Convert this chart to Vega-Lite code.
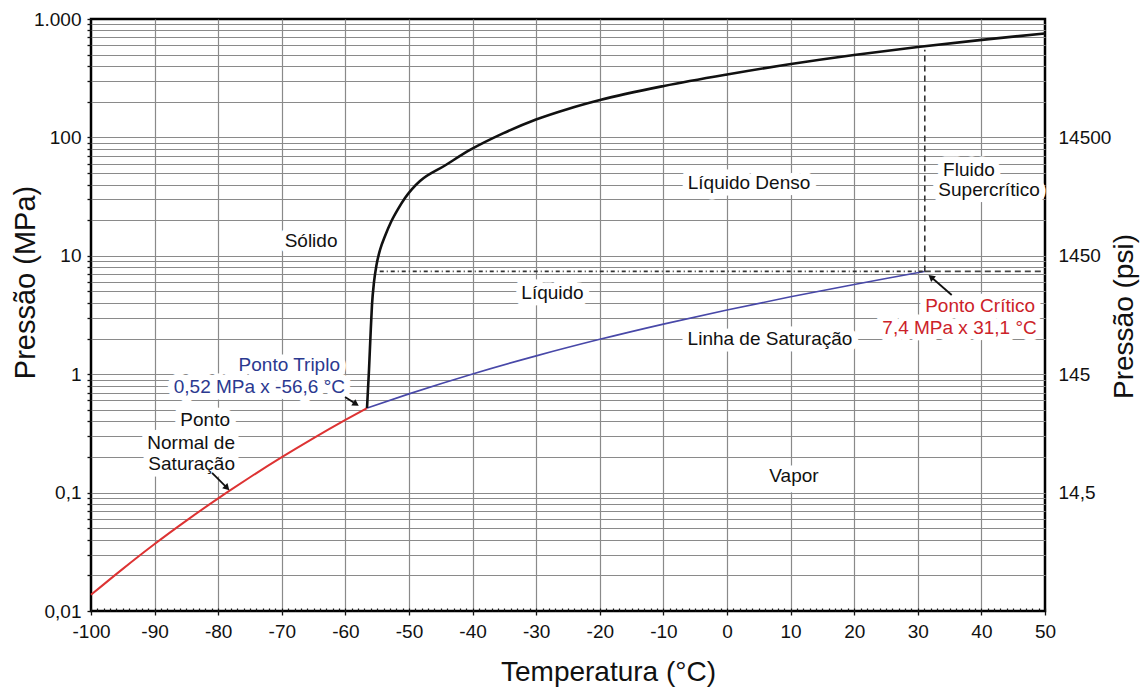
{
  "$schema": "https://vega.github.io/schema/vega-lite/v6.json",
  "width": 954,
  "height": 592,
  "autosize": {"type": "none"},
  "padding": {"left": 91, "top": 19, "right": 101, "bottom": 79},
  "background": "white",
  "config": {
    "view": {"stroke": "black", "strokeWidth": 2.5},
    "font": "Liberation Sans",
    "axis": {
      "labelFont": "Liberation Sans",
      "titleFont": "Liberation Sans",
      "labelFontSize": 19,
      "titleFontSize": 28,
      "titleFontWeight": "normal",
      "labelColor": "#111111",
      "titleColor": "#111111",
      "gridColor": "#8a8a8a",
      "gridWidth": 1.2,
      "domain": false,
      "tickColor": "#111111",
      "tickWidth": 1.3
    }
  },
  "resolve": {"axis": {"x": "independent", "y": "independent"}},
  "datasets": {
    "sub": [
      {"t": -100, "p": 0.0137},
      {"t": -95, "p": 0.0227},
      {"t": -90, "p": 0.0368},
      {"t": -85, "p": 0.058},
      {"t": -80, "p": 0.0894},
      {"t": -78.5, "p": 0.1013},
      {"t": -75, "p": 0.1347},
      {"t": -70, "p": 0.199},
      {"t": -65, "p": 0.2885},
      {"t": -60, "p": 0.411},
      {"t": -56.6, "p": 0.518}
    ],
    "sat": [
      {"t": -56.6, "p": 0.518},
      {"t": -50, "p": 0.682},
      {"t": -40, "p": 1.005},
      {"t": -30, "p": 1.428},
      {"t": -20, "p": 1.97},
      {"t": -10, "p": 2.649},
      {"t": 0, "p": 3.485},
      {"t": 10, "p": 4.502},
      {"t": 20, "p": 5.729},
      {"t": 25, "p": 6.434},
      {"t": 31.1, "p": 7.38}
    ],
    "melt": [
      {"t": -56.6, "p": 0.518},
      {"t": -56.29, "p": 1.085},
      {"t": -56.05, "p": 2.14},
      {"t": -55.82, "p": 3.84},
      {"t": -55.5, "p": 6.01},
      {"t": -55.11, "p": 8.36},
      {"t": -54.56, "p": 11.2},
      {"t": -53.77, "p": 14.7},
      {"t": -52.83, "p": 19.3},
      {"t": -51.73, "p": 24.8},
      {"t": -50.63, "p": 30.8},
      {"t": -49.53, "p": 36.6},
      {"t": -48.27, "p": 42.8},
      {"t": -44.34, "p": 57.9},
      {"t": -40.41, "p": 78.3},
      {"t": -35.22, "p": 108},
      {"t": -30.03, "p": 141.6},
      {"t": -25.0, "p": 174},
      {"t": -19.97, "p": 207},
      {"t": -9.91, "p": 272},
      {"t": 0, "p": 340},
      {"t": 10.06, "p": 417},
      {"t": 19.97, "p": 497},
      {"t": 30.0, "p": 580},
      {"t": 40.06, "p": 666},
      {"t": 50, "p": 756}
    ],
    "isoLeft": [{"t": -54.6, "t2": 31.1, "p": 7.38}],
    "isoRight": [{"t": 31.1, "t2": 50, "p": 7.38}],
    "isoT": [{"t": 31.1, "p": 7.38, "p2": 550}],
    "arrows": [
      {"name": "triple", "t": -60.06, "p": 0.642, "t2": -58.33, "p2": 0.56},
      {"name": "normal", "t": -80.97, "p": 0.1466, "t2": -78.6, "p2": 0.1094},
      {"name": "critical", "t": 35.33, "p": 4.67, "t2": 32.08, "p2": 6.62}
    ],
    "regions": [
      {"label": "Sólido", "t": -65.4, "p": 13.3},
      {"label": "Líquido Denso", "t": 3.46, "p": 41.2},
      {"label": "Fluido", "t": 38.05, "p": 53.1},
      {"label": "Supercrítico", "t": 41.2, "p": 36.0},
      {"label": "Líquido", "t": -27.44, "p": 4.82},
      {"label": "Linha de Saturação", "t": 6.76, "p": 1.98},
      {"label": "Vapor", "t": 10.53, "p": 0.138}
    ],
    "normalNote": [
      {"label": "Ponto", "t": -78.14, "p": 0.41},
      {"label": "Normal de", "t": -77.36, "p": 0.262},
      {"label": "Saturação", "t": -77.36, "p": 0.1746}
    ],
    "tripleNote": [
      {"label": "Ponto Triplo", "t": -60.85, "p": 1.196},
      {"label": "0,52 MPa x -56,6 °C", "t": -60.06, "p": 0.784}
    ],
    "criticalNote": [
      {"label": "Ponto Crítico", "t": 48.43, "p": 3.77},
      {"label": "7,4 MPa x 31,1 °C", "t": 48.7, "p": 2.45}
    ]
  },
  "layer": [
    {
      "data": {"name": "sub"},
      "mark": {"type": "line", "color": "#dd3333", "strokeWidth": 2, "interpolate": "monotone"},
      "encoding": {
        "x": {
          "field": "t", "type": "quantitative",
          "scale": {"domain": [-100, 50], "nice": false, "zero": false},
          "axis": {
            "orient": "bottom",
            "values": [-100, -90, -80, -70, -60, -50, -40, -30, -20, -10, 0, 10, 20, 30, 40, 50],
            "labelExpr": "'' + datum.value",
            "labelFlush": false,
            "labelOverlap": false,
            "labelPadding": 7,
            "tickSize": 4,
            "grid": true,
            "gridColor": {"condition": {"test": "datum.value == -100 || datum.value == 50", "value": "transparent"}, "value": "#8a8a8a"},
            "title": "Temperatura (°C)",
            "titleX": 517,
            "titleY": 69,
            "titleBaseline": "alphabetic",
            "titleAlign": "center"
          }
        },
        "y": {
          "field": "p", "type": "quantitative",
          "scale": {"type": "log", "domain": [0.01, 1000], "nice": false},
          "axis": {
            "orient": "left",
            "values": [0.01, 0.02, 0.03, 0.04, 0.05, 0.06, 0.07, 0.08, 0.09, 0.1, 0.2, 0.3, 0.4, 0.5, 0.6, 0.7, 0.8, 0.9, 1, 2, 3, 4, 5, 6, 7, 8, 9, 10, 20, 30, 40, 50, 60, 70, 80, 90, 100, 200, 300, 400, 500, 600, 700, 800, 900, 1000],
            "labelExpr": "datum.value == 1000 ? '1.000' : datum.value == 100 ? '100' : datum.value == 10 ? '10' : datum.value == 1 ? '1' : datum.value == 0.1 ? '0,1' : datum.value == 0.01 ? '0,01' : ''",
            "labelFlush": false,
            "labelOverlap": false,
            "labelPadding": 6,
            "tickSize": 4,
            "grid": true,
            "gridColor": {"condition": {"test": "datum.value == 1000 || datum.value == 0.01", "value": "transparent"}, "value": "#8a8a8a"},
            "title": "Pressão (MPa)",
            "titleFontSize": 29,
            "titleAngle": -90,
            "titleX": -57,
            "titleY": 263,
            "titleBaseline": "alphabetic",
            "titleAlign": "center"
          }
        }
      }
    },
    {
      "data": {"name": "sat"},
      "mark": {"type": "line", "color": "#4848a8", "strokeWidth": 1.6, "interpolate": "monotone"},
      "encoding": {
        "x": {
          "field": "t", "type": "quantitative",
          "scale": {"domain": [-100, 50], "nice": false, "zero": false},
          "axis": {
            "orient": "bottom",
            "tickCount": 150,
            "labels": false,
            "grid": false,
            "tickSize": -3,
            "tickWidth": 1.2,
            "title": null
          }
        },
        "y": {
          "field": "p", "type": "quantitative",
          "scale": {"type": "log", "domain": [0.01, 1000], "nice": false},
          "axis": {
            "orient": "right",
            "values": [0.1, 1, 10, 100],
            "labelExpr": "datum.value == 100 ? '14500' : datum.value == 10 ? '1450' : datum.value == 1 ? '145' : datum.value == 0.1 ? '14,5' : ''",
            "labelFlush": false,
            "labelOverlap": false,
            "ticks": false,
            "tickSize": 0,
            "labelPadding": 13,
            "grid": false,
            "title": "Pressão (psi)",
            "titleAngle": -90,
            "titleX": 87,
            "titleY": 297,
            "titleBaseline": "alphabetic",
            "titleAlign": "center"
          }
        }
      }
    },
    {
      "data": {"name": "melt"},
      "mark": {"type": "line", "color": "#111111", "strokeWidth": 2.6, "interpolate": "monotone"},
      "encoding": {
        "x": {"field": "t", "type": "quantitative", "axis": null},
        "y": {"field": "p", "type": "quantitative", "scale": {"type": "log"}, "axis": null}
      }
    },
    {
      "data": {"name": "isoLeft"},
      "mark": {"type": "rule", "color": "#333333", "strokeWidth": 1.6, "strokeDash": [4, 3, 1, 3]},
      "encoding": {
        "x": {"field": "t", "type": "quantitative", "axis": null},
        "x2": {"field": "t2"},
        "y": {"field": "p", "type": "quantitative", "scale": {"type": "log"}, "axis": null}
      }
    },
    {
      "data": {"name": "isoRight"},
      "mark": {"type": "rule", "color": "#444444", "strokeWidth": 1.6, "strokeDash": [6, 4]},
      "encoding": {
        "x": {"field": "t", "type": "quantitative", "axis": null},
        "x2": {"field": "t2"},
        "y": {"field": "p", "type": "quantitative", "scale": {"type": "log"}, "axis": null}
      }
    },
    {
      "data": {"name": "isoT"},
      "mark": {"type": "rule", "color": "#333333", "strokeWidth": 1.6, "strokeDash": [6, 4]},
      "encoding": {
        "x": {"field": "t", "type": "quantitative", "axis": null},
        "y": {"field": "p", "type": "quantitative", "scale": {"type": "log"}, "axis": null},
        "y2": {"field": "p2"}
      }
    },
    {
      "data": {"name": "regions"},
      "encoding": {
        "x": {"field": "t", "type": "quantitative", "axis": null},
        "y": {"field": "p", "type": "quantitative", "scale": {"type": "log"}, "axis": null},
        "text": {"field": "label"}
      },
      "layer": [
        {"mark": {"type": "text", "font": "Liberation Sans", "fontSize": 19, "align": "center", "baseline": "middle", "fill": "white", "stroke": "white", "strokeWidth": 13, "strokeJoin": "round"}},
        {"mark": {"type": "text", "font": "Liberation Sans", "fontSize": 19, "align": "center", "baseline": "middle", "fill": "#111111"}}
      ]
    },
    {
      "data": {"name": "normalNote"},
      "encoding": {
        "x": {"field": "t", "type": "quantitative", "axis": null},
        "y": {"field": "p", "type": "quantitative", "scale": {"type": "log"}, "axis": null},
        "text": {"field": "label"}
      },
      "layer": [
        {"mark": {"type": "text", "font": "Liberation Sans", "fontSize": 19, "align": "right", "baseline": "middle", "fill": "white", "stroke": "white", "strokeWidth": 13, "strokeJoin": "round"}},
        {"mark": {"type": "text", "font": "Liberation Sans", "fontSize": 19, "align": "right", "baseline": "middle", "fill": "#111111"}}
      ]
    },
    {
      "data": {"name": "tripleNote"},
      "encoding": {
        "x": {"field": "t", "type": "quantitative", "axis": null},
        "y": {"field": "p", "type": "quantitative", "scale": {"type": "log"}, "axis": null},
        "text": {"field": "label"}
      },
      "layer": [
        {"mark": {"type": "text", "font": "Liberation Sans", "fontSize": 19, "align": "right", "baseline": "middle", "fill": "white", "stroke": "white", "strokeWidth": 13, "strokeJoin": "round"}},
        {"mark": {"type": "text", "font": "Liberation Sans", "fontSize": 19, "align": "right", "baseline": "middle", "fill": "#2b3990"}}
      ]
    },
    {
      "data": {"name": "criticalNote"},
      "encoding": {
        "x": {"field": "t", "type": "quantitative", "axis": null},
        "y": {"field": "p", "type": "quantitative", "scale": {"type": "log"}, "axis": null},
        "text": {"field": "label"}
      },
      "layer": [
        {"mark": {"type": "text", "font": "Liberation Sans", "fontSize": 19, "align": "right", "baseline": "middle", "fill": "white", "stroke": "white", "strokeWidth": 13, "strokeJoin": "round"}},
        {"mark": {"type": "text", "font": "Liberation Sans", "fontSize": 19, "align": "right", "baseline": "middle", "fill": "#cc2229"}}
      ]
    },
    {
      "data": {"name": "arrows"},
      "mark": {"type": "rule", "color": "#111111", "strokeWidth": 1.8},
      "encoding": {
        "x": {"field": "t", "type": "quantitative", "axis": null},
        "x2": {"field": "t2"},
        "y": {"field": "p", "type": "quantitative", "scale": {"type": "log"}, "axis": null},
        "y2": {"field": "p2"}
      }
    },
    {
      "data": {"name": "arrows"},
      "transform": [{"filter": "datum.name == 'triple'"}],
      "mark": {"type": "point", "shape": "triangle-up", "filled": true, "color": "#111111", "size": 55, "angle": 122, "opacity": 1},
      "encoding": {
        "x": {"field": "t2", "type": "quantitative", "axis": null},
        "y": {"field": "p2", "type": "quantitative", "scale": {"type": "log"}, "axis": null}
      }
    },
    {
      "data": {"name": "arrows"},
      "transform": [{"filter": "datum.name == 'normal'"}],
      "mark": {"type": "point", "shape": "triangle-up", "filled": true, "color": "#111111", "size": 55, "angle": 135, "opacity": 1},
      "encoding": {
        "x": {"field": "t2", "type": "quantitative", "axis": null},
        "y": {"field": "p2", "type": "quantitative", "scale": {"type": "log"}, "axis": null}
      }
    },
    {
      "data": {"name": "arrows"},
      "transform": [{"filter": "datum.name == 'critical'"}],
      "mark": {"type": "point", "shape": "triangle-up", "filled": true, "color": "#111111", "size": 55, "angle": 310, "opacity": 1},
      "encoding": {
        "x": {"field": "t2", "type": "quantitative", "axis": null},
        "y": {"field": "p2", "type": "quantitative", "scale": {"type": "log"}, "axis": null}
      }
    }
  ]
}
